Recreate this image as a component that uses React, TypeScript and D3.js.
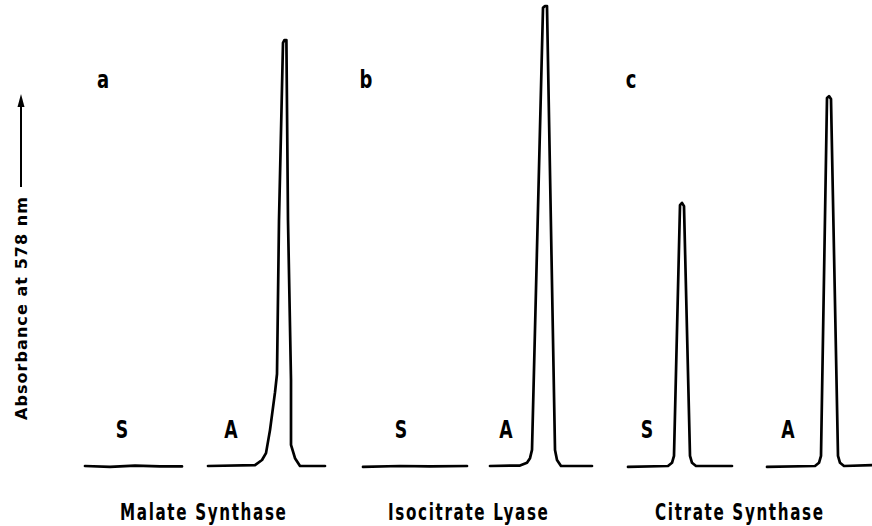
import * as d3 from 'd3'

// elution position (mm along the recorder trace), absorbance (relative)
const malateS: [number, number][] = [[21.25, 0], [27.5, -0.002], [33.75, 0.001], [40, -0.001], [45.5, -0.001]]
const malateA: [number, number][] = [
  [52, 0], [63.75, 0.002], [65.5, 0.013], [66.5, 0.028], [67.5, 0.078], [68.75, 0.16], [69.25, 0.2],
  [69.75, 0.535], [70.75, 0.92], [71.1, 0.926], [71.6, 0.926], [72, 0.535], [72.75, 0.187],
  [72.75, 0.046], [73.75, 0.017], [75, 0], [81.25, 0],
]
const isocitrateS: [number, number][] = [[90.75, -0.002], [100, 0], [107.5, -0.001], [116.75, 0]]
const isocitrateA: [number, number][] = [
  [122.5, 0], [130, 0.001], [131.75, 0.007], [132.5, 0.017], [133, 0.035], [135.75, 0.996],
  [136.25, 1], [136.75, 1], [138.75, 0.035], [139.25, 0.013], [140.25, 0], [148, 0],
]
const citrateS: [number, number][] = [
  [157, -0.002], [167, 0], [168, 0.007], [168.5, 0.022], [170, 0.567], [170.5, 0.572],
  [171, 0.565], [172.5, 0.022], [173, 0.007], [174, 0], [183, 0],
]
const citrateA: [number, number][] = [
  [191.75, -0.002], [203.75, 0], [204.75, 0.007], [205.25, 0.022], [206.75, 0.8], [207.25, 0.804],
  [207.75, 0.798], [209.5, 0.022], [210, 0.007], [211, 0], [218, 0.002],
]

const traces = [malateS, malateA, isocitrateS, isocitrateA, citrateS, citrateA]
const panelLetters = ['a', 'b', 'c']
const enzymes = ['Malate Synthase', 'Isocitrate Lyase', 'Citrate Synthase']
const traceLabels = ['S', 'A', 'S', 'A', 'S', 'A']
const yLabel = 'Absorbance at 578 nm'

const width = 872
const height = 526
const font = '"DejaVu Sans", "Liberation Sans", sans-serif'

export default function App() {
  const x = d3.scaleLinear().domain([0, 218]).range([0, 872])
  const y = d3.scaleLinear().domain([0, 1]).range([466, 6])

  const line = d3
    .line<[number, number]>()
    .x(d => x(d[0]))
    .y(d => y(d[1]))
    .curve(d3.curveLinear)

  // label layout
  const letterX = [103, 366, 631]
  const traceLabelX = [122, 231, 401, 506, 647, 788]
  const enzymeX = [120, 388, 655]

  // narrow, engineering-style lettering
  const squeeze = 0.72

  return (
    <svg
      width={width}
      height={height}
      style={{ position: 'absolute', left: 0, top: 0, background: '#fff' }}
      fontFamily={font}
    >
      {traces.map((t, i) => (
        <path key={i} d={line(t) ?? ''} fill="none" stroke="#000" strokeWidth={2.7} strokeLinejoin="round" strokeLinecap="round" />
      ))}

      {panelLetters.map((l, i) => (
        <text key={l} transform={`translate(${letterX[i]},88) scale(${squeeze},1)`} fontSize={25} fontWeight="bold" textAnchor="middle" fill="#000">{l}</text>
      ))}

      {traceLabels.map((l, i) => (
        <text key={i} transform={`translate(${traceLabelX[i]},438) scale(${squeeze},1)`} fontSize={24} fontWeight="bold" textAnchor="middle" fill="#000">{l}</text>
      ))}

      {enzymes.map((e, i) => (
        <text
          key={e}
          transform={`translate(${enzymeX[i]},520) scale(0.66,1)`}
          fontSize={23}
          fontWeight="bold"
          letterSpacing={2.5}
          fill="#000"
        >
          {e}
        </text>
      ))}

      {/* y axis label with arrow */}
      <text
        transform="translate(27,420) rotate(-90)"
        fontSize={16}
        fontWeight="bold"
        fill="#000"
        textLength={223}
        lengthAdjust="spacing"
      >
        {yLabel}
      </text>
      <line x1={21} y1={187} x2={21} y2={104} stroke="#000" strokeWidth={2} />
      <path d="M21,94 L17.5,107 L24.5,107 Z" fill="#000" />
    </svg>
  )
}
